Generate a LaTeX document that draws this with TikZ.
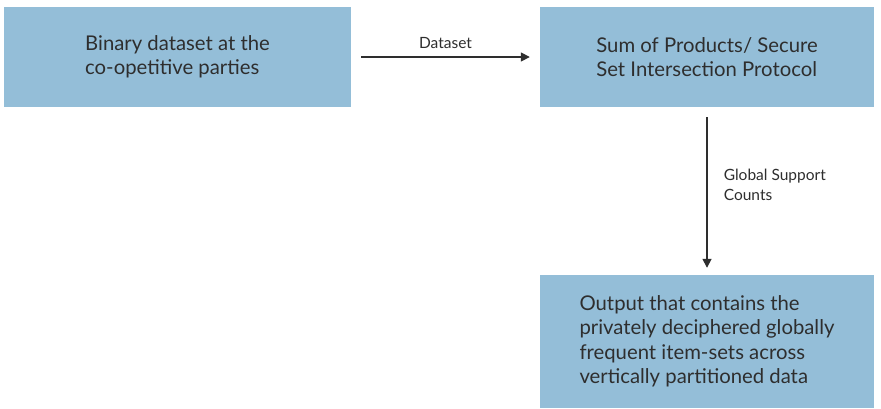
\documentclass[tikz,border=0pt]{standalone}
\usepackage{fontspec}
\setmainfont{Lato}
\usetikzlibrary{arrows.meta}
\definecolor{boxblue}{HTML}{94BED8}
\definecolor{ink}{HTML}{2E2E2E}
\tikzset{
  stagebox/.style={fill=boxblue, draw=none, inner sep=0pt, text=ink,
    font=\fontsize{20.3}{24.5}\selectfont, align=left},
  flow/.style={draw=ink, line width=1.6pt, -{Triangle[length=9pt,width=9pt]}},
  flowlabel/.style={text=ink, font=\fontsize{15.5}{19.5}\selectfont, align=left, inner sep=0pt}
}
\begin{document}
\begin{tikzpicture}[x=1pt,y=-1pt]
\useasboundingbox (0,0) rectangle (881,408);
% the three stages
\node[stagebox, minimum width=347pt, minimum height=100pt] (src) at (177.5,57)
  {Binary dataset at the\\co-opetitive parties};
\node[stagebox, minimum width=334pt, minimum height=100pt] (ssi) at (707,57)
  {Sum of Products/ Secure\\Set Intersection Protocol};
\node[stagebox, minimum width=334pt, minimum height=133pt] (out) at (707,341.5)
  {Output that contains the\\privately deciphered globally\\frequent item-sets across\\vertically partitioned data};
% connectors
\draw[flow] ([xshift=10pt]src.east) -- node[flowlabel, above=8pt] {Dataset} ([xshift=-10pt]ssi.west);
\draw[flow] ([yshift=-10pt]ssi.south) -- node[flowlabel, right=16pt, pos=0.45] {Global Support\\Counts} ([yshift=7pt]out.north);
\end{tikzpicture}
\end{document}
